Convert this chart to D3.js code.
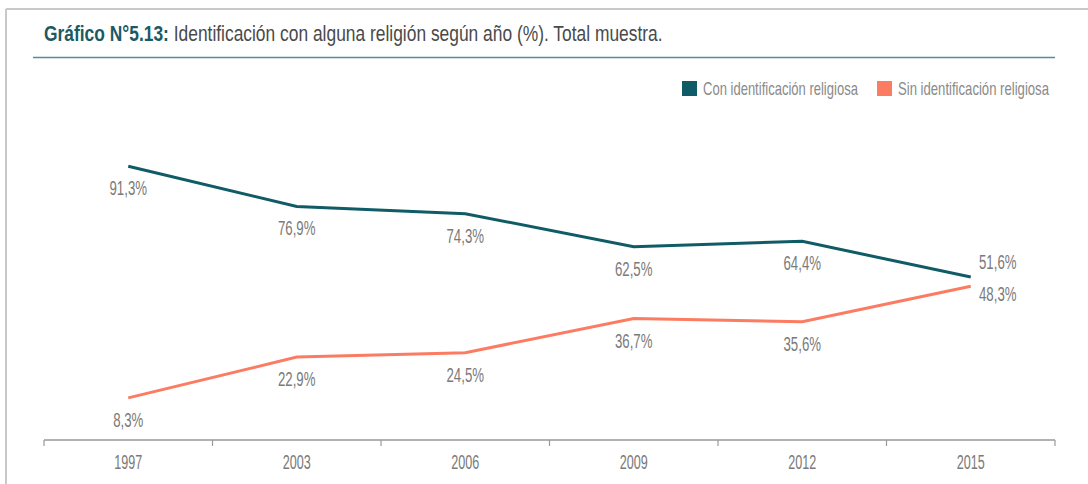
<!DOCTYPE html>
<html>
<head>
<meta charset="utf-8">
<script src="https://cdn.jsdelivr.net/npm/d3@7"></script>
<style>
  body { margin: 0; background: #fff; }
  svg text { font-family: "Liberation Sans", Arial, sans-serif; }
</style>
</head>
<body>
<script>
const years = ["1997", "2003", "2006", "2009", "2012", "2015"];
const conIdent = [91.3, 76.9, 74.3, 62.5, 64.4, 51.6];
const sinIdent = [8.3, 22.9, 24.5, 36.7, 35.6, 48.3];
const seriesNames = ["Con identificación religiosa", "Sin identificación religiosa"];
const seriesColors = ["#0f5c66", "#fb7c62"];

const width = 1088, height = 484;
const svg = d3.select("body").append("svg")
  .attr("width", width)
  .attr("height", height);

// squeeze text horizontally (reference uses a condensed face)
function fitWidth(sel, w) {
  sel.each(function () {
    const k = w / this.getComputedTextLength();
    const x0 = +this.getAttribute("x") || 0;
    d3.select(this).attr("transform", `translate(${x0},0) scale(${k},1) translate(${-x0},0)`);
  });
}
function squeeze(sel, k) {
  sel.each(function () {
    const x0 = +this.getAttribute("x") || 0;
    d3.select(this).attr("transform", `translate(${x0},0) scale(${k},1) translate(${-x0},0)`);
  });
}

// frame (gray border top/left)
svg.append("line").attr("x1", 6).attr("x2", width).attr("y1", 9).attr("y2", 9)
  .attr("stroke", "#c8c8c8").attr("stroke-width", 2);
svg.append("line").attr("x1", 6).attr("x2", 6).attr("y1", 9).attr("y2", height)
  .attr("stroke", "#c8c8c8").attr("stroke-width", 2);

// title
const title = svg.append("text")
  .attr("x", 44)
  .attr("y", 41)
  .style("font-size", "21.5px")
  .attr("fill", "#4a4a4a");
title.append("tspan").attr("font-weight", "bold").attr("fill", "#1b5a63").text("Gráfico N°5.13: ");
title.append("tspan").text("Identificación con alguna religión según año (%). Total muestra.");
fitWidth(title, 619);

svg.append("line").attr("x1", 33).attr("x2", 1055).attr("y1", 57.5).attr("y2", 57.5)
  .attr("stroke", "#4f9197").attr("stroke-width", 1.5);

// legend
const legendX = [682, 877];
const legendW = [155, 151];
seriesNames.forEach((name, i) => {
  svg.append("rect").attr("x", legendX[i]).attr("y", 81)
    .attr("width", 15).attr("height", 15).attr("fill", seriesColors[i]);
  const t = svg.append("text").attr("x", legendX[i] + 21).attr("y", 95)
    .style("font-size", "18px").attr("fill", "#8a8a8a").text(name);
  fitWidth(t, legendW[i]);
});

// scales
const x = d3.scaleBand().domain(years).range([44, 1055]);
const y = d3.scaleLinear().domain([0, 100]).range([421, 142]);
const cx = d => x(d) + x.bandwidth() / 2;

// axis
const axis = svg.append("g")
  .attr("transform", "translate(0,440)")
  .call(d3.axisBottom(x).tickSize(0).tickPadding(14));
axis.select(".domain").remove();
axis.selectAll("text")
  .attr("font-family", null)
  .attr("font-size", null)
  .style("font-size", "21px")
  .attr("fill", "#7a7a7a");
squeeze(axis.selectAll("text"), 0.6);
axis.append("line").attr("x1", 44).attr("x2", 1055).attr("stroke", "#999").attr("stroke-width", 1.5);
axis.selectAll(".edge")
  .data(d3.range(years.length + 1))
  .enter()
  .append("line")
  .attr("class", "edge")
  .attr("x1", i => 44 + i * x.step())
  .attr("x2", i => 44 + i * x.step())
  .attr("y1", 0).attr("y2", 6)
  .attr("stroke", "#999").attr("stroke-width", 1.2);

// lines
const line = d3.line().x((d, i) => cx(years[i])).y(d => y(d));
[conIdent, sinIdent].forEach((vals, s) => {
  svg.append("path")
    .datum(vals)
    .attr("d", line)
    .attr("fill", "none")
    .attr("stroke", seriesColors[s])
    .attr("stroke-width", 3);

  const labs = svg.selectAll(".lab" + s)
    .data(vals)
    .enter()
    .append("text")
    .attr("class", "lab" + s)
    .attr("text-anchor", "middle")
    .attr("x", (d, i) => cx(years[i]) + (i === years.length - 1 ? 27 : 0))
    .attr("y", (d, i) => {
      if (i === years.length - 1) return s === 0 ? y(d) - 8 : y(d) + 15;
      return y(d) + 29;
    })
    .style("font-size", "21px")
    .attr("fill", "#7a7a7a")
    .text(d => d3.format(".1f")(d).replace(".", ",") + "%");
  squeeze(labs, 0.63);
});
</script>
</body>
</html>
